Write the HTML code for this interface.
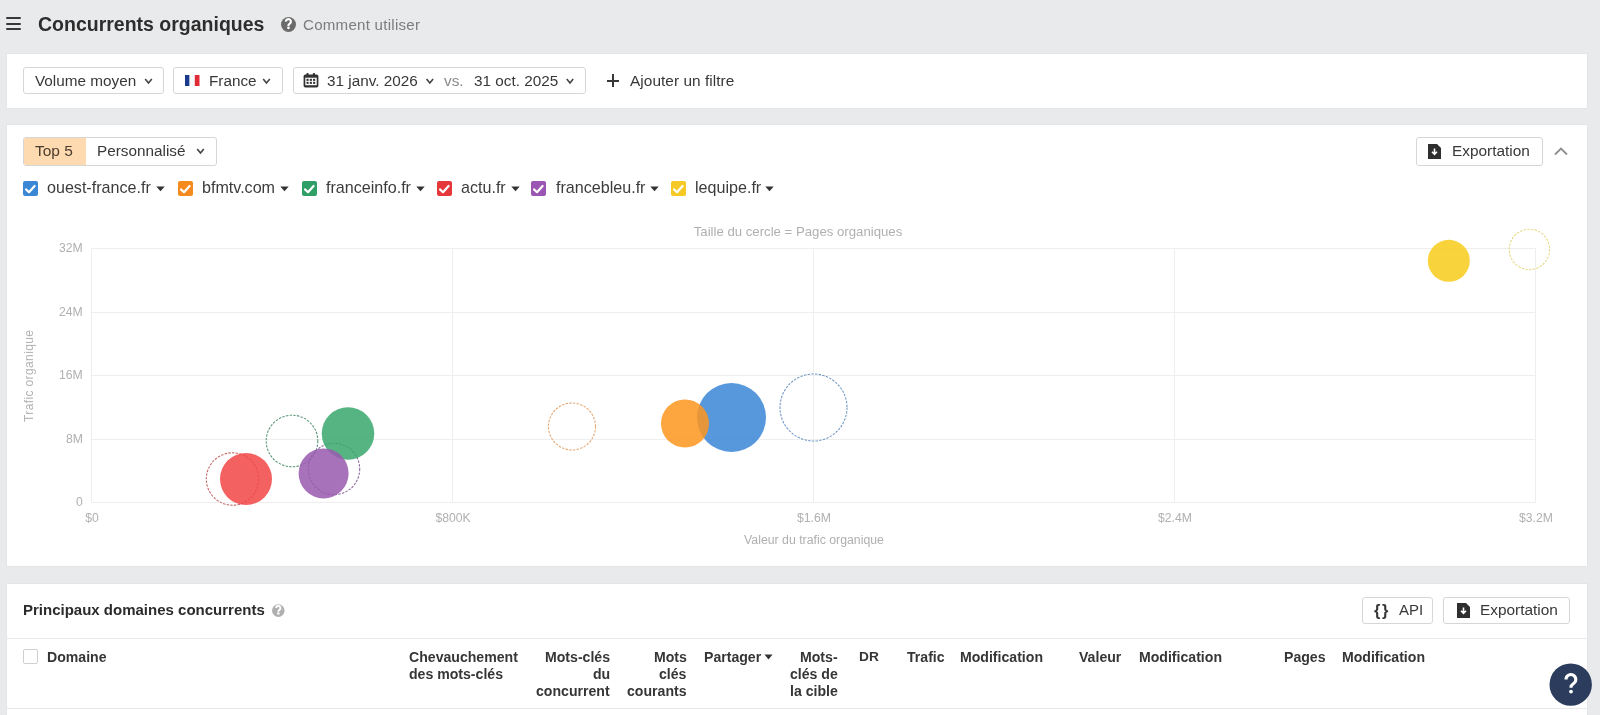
<!DOCTYPE html>
<html><head><meta charset="utf-8"><style>
html,body{margin:0;padding:0;}
body{width:1600px;height:715px;overflow:hidden;background:#e9eaec;position:relative;font-family:"Liberation Sans",sans-serif;}
.t{position:absolute;white-space:nowrap;line-height:1;will-change:transform;}
.b{position:absolute;box-sizing:border-box;}
svg{position:absolute;left:0;top:0;}
</style></head><body>
<div class="b" style="left:6px;top:17px;width:15px;height:2px;background:#383838;border-radius:1px"></div>
<div class="b" style="left:6px;top:23px;width:15px;height:2px;background:#383838;border-radius:1px"></div>
<div class="b" style="left:6px;top:28px;width:15px;height:2px;background:#383838;border-radius:1px"></div>
<div class="t" style="left:38.40px;top:14.73px;font-size:19.5px;font-weight:700;color:#2d2d2d;">Concurrents organiques</div>
<svg width="1600" height="715" style="pointer-events:none"><circle cx="288.5" cy="24.5" r="7.5" fill="#6b6b6b"/><g transform="translate(288.3,24.2) scale(0.52)"><path d="M-4.6 -4.9 a4.8 4.8 0 1 1 7.4 3.9 c-1.8 1.2 -2.5 2 -2.5 3.6 v0.7" stroke="#fff" stroke-width="4.2" fill="none"/><circle cx="0.3" cy="7" r="2.60" fill="#fff"/></g></svg>
<div class="t" style="left:302.80px;top:16.77px;font-size:15.1px;font-weight:400;color:#7c7c7c;letter-spacing:0.25px">Comment utiliser</div>
<div class="b" style="left:6px;top:53px;width:1582px;height:56px;background:#fff;border:1px solid #e4e5e7"></div>
<div class="b" style="left:23px;top:67px;width:141px;height:27px;background:#fff;border:1px solid #d6d6d6;border-radius:3px"></div>
<div class="t" style="left:35.00px;top:72.50px;font-size:15.3px;font-weight:400;color:#383838;">Volume moyen</div>
<svg width="1600" height="715"><path d="M145.2 79.0 L148.5 83.0 L151.8 79.0" stroke="#444" stroke-width="1.6" fill="none"/></svg>
<div class="b" style="left:173px;top:67px;width:110px;height:27px;background:#fff;border:1px solid #d6d6d6;border-radius:3px"></div>
<svg width="1600" height="715"><rect x="185" y="75" width="4.6" height="11" fill="#1a3a8c"/><rect x="189.6" y="75" width="5.2" height="11" fill="#fafafa"/><rect x="194.8" y="75" width="4.7" height="11" fill="#e02a36"/></svg>
<div class="t" style="left:208.50px;top:72.50px;font-size:15.3px;font-weight:400;color:#383838;">France</div>
<svg width="1600" height="715"><path d="M263.2 79.0 L266.5 83.0 L269.8 79.0" stroke="#444" stroke-width="1.6" fill="none"/></svg>
<div class="b" style="left:293px;top:67px;width:293px;height:27px;background:#fff;border:1px solid #d6d6d6;border-radius:3px"></div>
<svg width="1600" height="715"><rect x="303.6" y="74.4" width="14.8" height="13.1" rx="1.8" fill="#333"/><rect x="306.4" y="73" width="2.2" height="3" rx="0.8" fill="#333"/><rect x="312.8" y="73" width="2.2" height="3" rx="0.8" fill="#333"/><rect x="305.3" y="77.7" width="11.4" height="7.5" fill="#fff"/><rect x="306.5" y="78.8" width="2.1" height="2.1" fill="#333"/><rect x="306.5" y="81.8" width="2.1" height="2.1" fill="#333"/><rect x="309.8" y="78.8" width="2.1" height="2.1" fill="#333"/><rect x="309.8" y="81.8" width="2.1" height="2.1" fill="#333"/><rect x="313.1" y="78.8" width="2.1" height="2.1" fill="#333"/><rect x="313.1" y="81.8" width="2.1" height="2.1" fill="#333"/></svg>
<div class="t" style="left:327.00px;top:72.50px;font-size:15.3px;font-weight:400;color:#383838;">31 janv. 2026</div>
<svg width="1600" height="715"><path d="M426.6 79.0 L429.8 83.0 L433.1 79.0" stroke="#444" stroke-width="1.6" fill="none"/></svg>
<div class="t" style="left:443.50px;top:72.50px;font-size:15.3px;font-weight:400;color:#8a8a8a;">vs.</div>
<div class="t" style="left:473.50px;top:72.50px;font-size:15.3px;font-weight:400;color:#383838;">31 oct. 2025</div>
<svg width="1600" height="715"><path d="M566.8 79.0 L570.0 83.0 L573.2 79.0" stroke="#444" stroke-width="1.6" fill="none"/></svg>
<div class="b" style="left:607px;top:80px;width:12px;height:2px;background:#383838"></div>
<div class="b" style="left:612px;top:74px;width:2px;height:13px;background:#383838"></div>
<div class="t" style="left:629.50px;top:73.11px;font-size:15.4px;font-weight:400;color:#383838;letter-spacing:0.05px">Ajouter un filtre</div>
<div class="b" style="left:6px;top:124px;width:1582px;height:443px;background:#fff;border:1px solid #e4e5e7"></div>
<div class="b" style="left:23px;top:137px;width:194px;height:29px;background:#fff;border:1px solid #d6d6d6;border-radius:3px"></div>
<div class="b" style="left:24px;top:138px;width:62px;height:27px;background:#fddab0;border-radius:2px 0 0 2px"></div>
<div class="t" style="left:34.70px;top:142.62px;font-size:15.5px;font-weight:400;color:#4a3c2e;">Top 5</div>
<div class="t" style="left:96.50px;top:142.59px;font-size:15.3px;font-weight:400;color:#383838;">Personnalisé</div>
<svg width="1600" height="715"><path d="M197.2 149.0 L200.5 153.0 L203.8 149.0" stroke="#444" stroke-width="1.6" fill="none"/></svg>
<div class="b" style="left:1416px;top:137px;width:127px;height:29px;background:#fff;border:1px solid #d6d6d6;border-radius:3px"></div>
<svg width="1600" height="715"><path d="M1428 144 h9 l4 4 v11 h-13 z" fill="#2e2e2e"/><path d="M1434.5 148.5 v5.5 M1432.0 151.8 l2.5 2.5 l2.5 -2.5" stroke="#fff" stroke-width="1.6" fill="none"/></svg>
<div class="t" style="left:1451.50px;top:142.91px;font-size:15.4px;font-weight:400;color:#383838;">Exportation</div>
<svg width="1600" height="715"><path d="M1555 154.5 L1561 148.5 L1567 154.5" stroke="#8f8f8f" stroke-width="1.9" fill="none"/></svg>
<div class="b" style="left:23px;top:181px;width:15px;height:15px;background:#3b87d6;border-radius:2px"></div>
<svg width="1600" height="715"><path d="M26.0 189.4 L29.0 192.2 L34.6 186.0" stroke="#fff" stroke-width="2.2" fill="none" stroke-linecap="round" stroke-linejoin="round"/></svg>
<div class="t" style="left:46.50px;top:178.81px;font-size:16.1px;font-weight:400;color:#3c3c3c;">ouest-france.fr</div>
<svg width="1600" height="715"><path d="M156.3 186.6 L164.7 186.6 L160.5 191.2 z" fill="#333"/></svg>
<div class="b" style="left:178px;top:181px;width:15px;height:15px;background:#f58b1f;border-radius:2px"></div>
<svg width="1600" height="715"><path d="M181.0 189.4 L184.0 192.2 L189.6 186.0" stroke="#fff" stroke-width="2.2" fill="none" stroke-linecap="round" stroke-linejoin="round"/></svg>
<div class="t" style="left:201.50px;top:178.81px;font-size:16.1px;font-weight:400;color:#3c3c3c;">bfmtv.com</div>
<svg width="1600" height="715"><path d="M280.3 186.6 L288.7 186.6 L284.5 191.2 z" fill="#333"/></svg>
<div class="b" style="left:302px;top:181px;width:15px;height:15px;background:#2ea067;border-radius:2px"></div>
<svg width="1600" height="715"><path d="M305.0 189.4 L308.0 192.2 L313.6 186.0" stroke="#fff" stroke-width="2.2" fill="none" stroke-linecap="round" stroke-linejoin="round"/></svg>
<div class="t" style="left:325.50px;top:178.81px;font-size:16.1px;font-weight:400;color:#3c3c3c;">franceinfo.fr</div>
<svg width="1600" height="715"><path d="M416.3 186.6 L424.7 186.6 L420.5 191.2 z" fill="#333"/></svg>
<div class="b" style="left:437px;top:181px;width:15px;height:15px;background:#e5383b;border-radius:2px"></div>
<svg width="1600" height="715"><path d="M440.0 189.4 L443.0 192.2 L448.6 186.0" stroke="#fff" stroke-width="2.2" fill="none" stroke-linecap="round" stroke-linejoin="round"/></svg>
<div class="t" style="left:460.50px;top:178.81px;font-size:16.1px;font-weight:400;color:#3c3c3c;">actu.fr</div>
<svg width="1600" height="715"><path d="M511.3 186.6 L519.7 186.6 L515.5 191.2 z" fill="#333"/></svg>
<div class="b" style="left:531px;top:181px;width:15px;height:15px;background:#9b55b3;border-radius:2px"></div>
<svg width="1600" height="715"><path d="M534.0 189.4 L537.0 192.2 L542.6 186.0" stroke="#fff" stroke-width="2.2" fill="none" stroke-linecap="round" stroke-linejoin="round"/></svg>
<div class="t" style="left:555.50px;top:178.81px;font-size:16.1px;font-weight:400;color:#3c3c3c;">francebleu.fr</div>
<svg width="1600" height="715"><path d="M650.3 186.6 L658.7 186.6 L654.5 191.2 z" fill="#333"/></svg>
<div class="b" style="left:671px;top:181px;width:15px;height:15px;background:#f5c926;border-radius:2px"></div>
<svg width="1600" height="715"><path d="M674.0 189.4 L677.0 192.2 L682.6 186.0" stroke="#fff" stroke-width="2.2" fill="none" stroke-linecap="round" stroke-linejoin="round"/></svg>
<div class="t" style="left:694.50px;top:178.81px;font-size:16.1px;font-weight:400;color:#3c3c3c;">lequipe.fr</div>
<svg width="1600" height="715"><path d="M765.3 186.6 L773.7 186.6 L769.5 191.2 z" fill="#333"/></svg>
<svg width="1600" height="715"><line x1="92" y1="248.5" x2="1536" y2="248.5" stroke="#eeeeee" stroke-width="1"/><line x1="92" y1="312.5" x2="1536" y2="312.5" stroke="#eeeeee" stroke-width="1"/><line x1="92" y1="375.5" x2="1536" y2="375.5" stroke="#eeeeee" stroke-width="1"/><line x1="92" y1="439.5" x2="1536" y2="439.5" stroke="#eeeeee" stroke-width="1"/><line x1="92" y1="502.5" x2="1536" y2="502.5" stroke="#eeeeee" stroke-width="1"/><line x1="91.5" y1="248.5" x2="91.5" y2="502.5" stroke="#eeeeee" stroke-width="1"/><line x1="452.5" y1="248.5" x2="452.5" y2="502.5" stroke="#eeeeee" stroke-width="1"/><line x1="813.5" y1="248.5" x2="813.5" y2="502.5" stroke="#eeeeee" stroke-width="1"/><line x1="1174.5" y1="248.5" x2="1174.5" y2="502.5" stroke="#eeeeee" stroke-width="1"/><line x1="1535.5" y1="248.5" x2="1535.5" y2="502.5" stroke="#eeeeee" stroke-width="1"/><circle cx="813.5" cy="407.5" r="33.5" fill="none" stroke="#7399c6" stroke-width="1.1" stroke-dasharray="2.4 1.3"/><circle cx="572" cy="426.5" r="23.5" fill="none" stroke="#e6a872" stroke-width="1.1" stroke-dasharray="2.4 1.3"/><circle cx="292" cy="441" r="25.8" fill="none" stroke="#5c9a7a" stroke-width="1.1" stroke-dasharray="2.4 1.3"/><circle cx="232.5" cy="479" r="26.2" fill="none" stroke="#c66a6a" stroke-width="1.1" stroke-dasharray="2.4 1.3"/><circle cx="334" cy="469" r="25.7" fill="none" stroke="#8e6a9e" stroke-width="1.1" stroke-dasharray="2.4 1.3"/><circle cx="1529.4" cy="249.4" r="20.2" fill="none" stroke="#e6da8a" stroke-width="1.1" stroke-dasharray="2.4 1.3"/><circle cx="731.5" cy="417.5" r="34.5" fill="#3b87d6" fill-opacity="0.86"/><circle cx="685" cy="423.5" r="24" fill="#fd9620" fill-opacity="0.86"/><circle cx="348" cy="433.5" r="26.3" fill="#3aa86f" fill-opacity="0.86"/><circle cx="246" cy="479" r="26" fill="#f24747" fill-opacity="0.86"/><circle cx="323.6" cy="473.4" r="25" fill="#9a5bb0" fill-opacity="0.86"/><circle cx="1448.8" cy="260.8" r="21" fill="#f8cc1b" fill-opacity="0.86"/></svg>
<div class="t" style="right:1517.00px;top:242.13px;font-size:12.2px;font-weight:400;color:#b0b0b0;text-align:right;">32M</div>
<div class="t" style="right:1517.00px;top:306.13px;font-size:12.2px;font-weight:400;color:#b0b0b0;text-align:right;">24M</div>
<div class="t" style="right:1517.00px;top:369.13px;font-size:12.2px;font-weight:400;color:#b0b0b0;text-align:right;">16M</div>
<div class="t" style="right:1517.00px;top:433.13px;font-size:12.2px;font-weight:400;color:#b0b0b0;text-align:right;">8M</div>
<div class="t" style="right:1517.00px;top:496.13px;font-size:12.2px;font-weight:400;color:#b0b0b0;text-align:right;">0</div>
<div class="t" style="left:-208.00px;width:600px;top:512.13px;font-size:12.2px;font-weight:400;color:#b0b0b0;text-align:center;">$0</div>
<div class="t" style="left:153.00px;width:600px;top:512.13px;font-size:12.2px;font-weight:400;color:#b0b0b0;text-align:center;">$800K</div>
<div class="t" style="left:514.00px;width:600px;top:512.13px;font-size:12.2px;font-weight:400;color:#b0b0b0;text-align:center;">$1.6M</div>
<div class="t" style="left:875.00px;width:600px;top:512.13px;font-size:12.2px;font-weight:400;color:#b0b0b0;text-align:center;">$2.4M</div>
<div class="t" style="left:1236.00px;width:600px;top:512.13px;font-size:12.2px;font-weight:400;color:#b0b0b0;text-align:center;">$3.2M</div>
<div class="t" style="left:497.50px;width:600px;top:225.28px;font-size:13.2px;font-weight:400;color:#b0b0b0;text-align:center;">Taille du cercle = Pages organiques</div>
<div class="t" style="left:514.00px;width:600px;top:533.84px;font-size:12.3px;font-weight:400;color:#b0b0b0;text-align:center;">Valeur du trafic organique</div>
<div class="t" style="left:-17.4px;top:370.2px;width:92px;font-size:12px;letter-spacing:0.38px;color:#b3b3b3;transform:rotate(-90deg);text-align:center">Trafic organique</div>
<div class="b" style="left:6px;top:583px;width:1582px;height:137px;background:#fff;border:1px solid #e4e5e7"></div>
<div class="t" style="left:23.00px;top:601.75px;font-size:15px;font-weight:700;color:#2b2b2b;">Principaux domaines concurrents</div>
<svg width="1600" height="715"><circle cx="278.3" cy="610.6" r="6.3" fill="#b0b0b0"/><g transform="translate(278.2,610.3) scale(0.45)"><path d="M-4.6 -4.9 a4.8 4.8 0 1 1 7.4 3.9 c-1.8 1.2 -2.5 2 -2.5 3.6 v0.7" stroke="#fff" stroke-width="4.4" fill="none"/><circle cx="0.3" cy="7" r="2.73" fill="#fff"/></g></svg>
<div class="b" style="left:1362px;top:597px;width:71px;height:27px;background:#fff;border:1px solid #d6d6d6;border-radius:3px"></div>
<div class="t" style="left:1373.80px;top:602.27px;font-size:16.5px;font-weight:700;color:#383838;letter-spacing:1.6px">{}</div>
<div class="t" style="left:1398.50px;top:601.95px;font-size:15px;font-weight:400;color:#383838;">API</div>
<div class="b" style="left:1443px;top:597px;width:127px;height:27px;background:#fff;border:1px solid #d6d6d6;border-radius:3px"></div>
<svg width="1600" height="715"><path d="M1457 603 h9 l4 4 v11 h-13 z" fill="#2e2e2e"/><path d="M1463.5 607.5 v5.5 M1461.0 610.8 l2.5 2.5 l2.5 -2.5" stroke="#fff" stroke-width="1.6" fill="none"/></svg>
<div class="t" style="left:1479.50px;top:601.61px;font-size:15.4px;font-weight:400;color:#383838;">Exportation</div>
<div class="b" style="left:6px;top:638px;width:1582px;height:1px;background:#e9e9e9"></div>
<div class="b" style="left:6px;top:708px;width:1582px;height:1px;background:#e9e9e9"></div>
<div class="b" style="left:23px;top:649px;width:15px;height:15px;background:#fff;border:1px solid #cfcfcf;border-radius:2px"></div>
<div class="t" style="left:47.00px;top:650.01px;font-size:14.1px;font-weight:700;color:#363636;">Domaine</div>
<div class="t" style="left:408.50px;top:649.81px;font-size:14.1px;font-weight:700;color:#363636;">Chevauchement</div>
<div class="t" style="left:408.50px;top:666.71px;font-size:14.1px;font-weight:700;color:#363636;">des mots-clés</div>
<div class="t" style="right:990.00px;top:649.81px;font-size:14.1px;font-weight:700;color:#363636;text-align:right;">Mots-clés</div>
<div class="t" style="right:990.00px;top:666.71px;font-size:14.1px;font-weight:700;color:#363636;text-align:right;">du</div>
<div class="t" style="right:990.00px;top:683.61px;font-size:14.1px;font-weight:700;color:#363636;text-align:right;">concurrent</div>
<div class="t" style="right:913.50px;top:649.81px;font-size:14.1px;font-weight:700;color:#363636;text-align:right;">Mots</div>
<div class="t" style="right:913.50px;top:666.71px;font-size:14.1px;font-weight:700;color:#363636;text-align:right;">clés</div>
<div class="t" style="right:913.50px;top:683.61px;font-size:14.1px;font-weight:700;color:#363636;text-align:right;">courants</div>
<div class="t" style="left:703.50px;top:649.81px;font-size:14.1px;font-weight:700;color:#363636;">Partager</div>
<svg width="1600" height="715"><path d="M764.5 654.5 L772.5 654.5 L768.5 659.5 z" fill="#333"/></svg>
<div class="t" style="right:762.00px;top:649.81px;font-size:14.1px;font-weight:700;color:#363636;text-align:right;">Mots-</div>
<div class="t" style="right:762.00px;top:666.71px;font-size:14.1px;font-weight:700;color:#363636;text-align:right;">clés de</div>
<div class="t" style="right:762.00px;top:683.61px;font-size:14.1px;font-weight:700;color:#363636;text-align:right;">la cible</div>
<div class="t" style="left:858.50px;top:650.15px;font-size:13.7px;font-weight:700;color:#363636;">DR</div>
<div class="t" style="left:906.50px;top:649.81px;font-size:14.1px;font-weight:700;color:#363636;">Trafic</div>
<div class="t" style="left:960.00px;top:649.81px;font-size:14.1px;font-weight:700;color:#363636;">Modification</div>
<div class="t" style="left:1078.50px;top:649.81px;font-size:14.1px;font-weight:700;color:#363636;">Valeur</div>
<div class="t" style="left:1139.00px;top:649.81px;font-size:14.1px;font-weight:700;color:#363636;">Modification</div>
<div class="t" style="left:1283.50px;top:649.81px;font-size:14.1px;font-weight:700;color:#363636;">Pages</div>
<div class="t" style="left:1342.00px;top:649.81px;font-size:14.1px;font-weight:700;color:#363636;">Modification</div>
<svg width="1600" height="715"><circle cx="1570.7" cy="684.6" r="21.2" fill="#2b3c5c"/><path d="M1566 679.5 a4.9 4.9 0 1 1 7.6 4 c-1.8 1.2 -2.6 2 -2.6 3.6 v0.6" stroke="#fff" stroke-width="3.1" fill="none"/><circle cx="1571" cy="691.6" r="1.9" fill="#fff"/></svg>
</body></html>
